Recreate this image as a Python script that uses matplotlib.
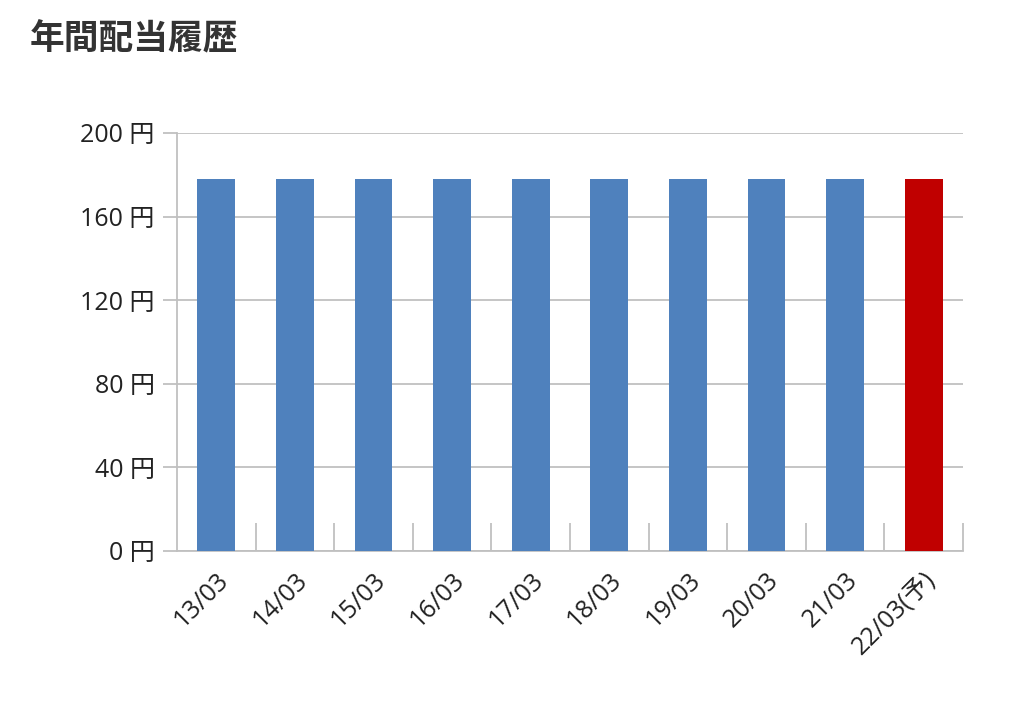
import matplotlib
matplotlib.use("Agg")
import matplotlib.pyplot as plt
from matplotlib.ticker import FixedLocator

plt.rcParams['font.family'] = ['Open Sans', 'Noto Sans CJK JP', 'DejaVu Sans']

categories = ["13/03", "14/03", "15/03", "16/03", "17/03", "18/03", "19/03", "20/03", "21/03", "22/03(予)"]
values = [178, 178, 178, 178, 178, 178, 178, 178, 178, 178]
colors = ["#4f81bd"] * 9 + ["#c00000"]
yticks = [0, 40, 80, 120, 160, 200]

fig = plt.figure(figsize=(10.24, 7.08), dpi=100)
ax = fig.add_axes([177/1024, 1-551/708, (963-177)/1024, (551-133)/708])
x = list(range(len(categories)))
ax.bar(x, values, width=0.48, color=colors, zorder=3)
ax.set_xlim(-0.5, len(categories) - 0.5)
ax.set_ylim(0, 200)
ax.set_yticks(yticks)
ax.set_yticklabels([f"{v} 円" for v in yticks], fontsize=18, color="#222222")
ax.yaxis.grid(True, color="#c0c0c0", linewidth=1.3, zorder=0)
ax.tick_params(axis='y', length=10, color="#c0c0c0", width=1.3, pad=6)
ax.set_xticks(x)
ax.set_xticklabels(categories, rotation=45, ha='right', rotation_mode='anchor', fontsize=18, color="#222222")
ax.tick_params(axis='x', length=0, pad=12)
ax.xaxis.set_minor_locator(FixedLocator([i + 0.5 for i in x]))
ax.tick_params(axis='x', which='minor', direction='in', length=20, color="#c0c0c0", width=1.3)
for s in ['top', 'right']:
    ax.spines[s].set_visible(False)
for s in ['left', 'bottom']:
    ax.spines[s].set_color("#c0c0c0")
    ax.spines[s].set_linewidth(1.3)
fig.text(30/1024, 1-40/708, "年間配当履歴", fontsize=25, fontweight='bold', color="#333333", va='center')
fig.savefig("out.png", dpi=100)
